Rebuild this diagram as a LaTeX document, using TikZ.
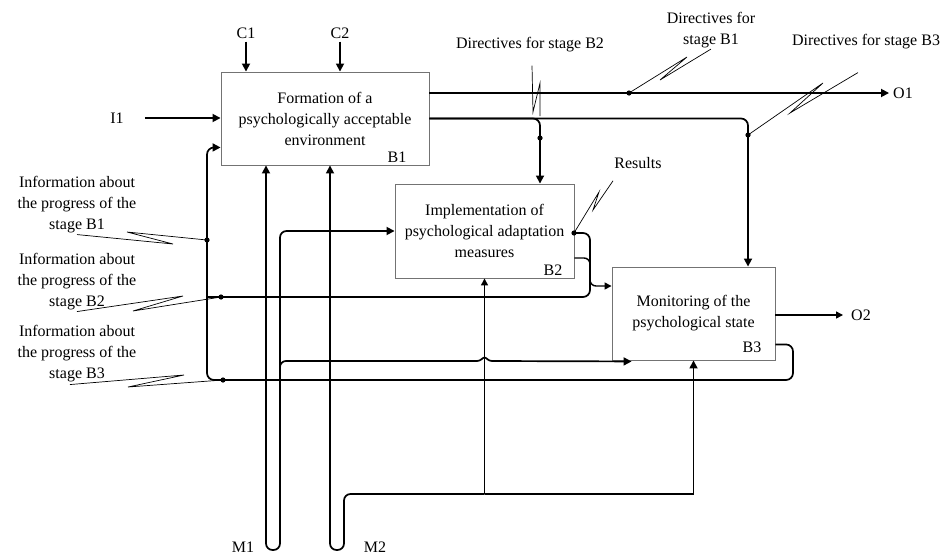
\documentclass[tikz,border=0pt]{standalone}
\usepackage{fontspec}
\setmainfont{Liberation Serif}
\usepackage{tikz}
\usetikzlibrary{positioning,arrows.meta,calc}

\begin{document}
\begin{tikzpicture}[
  x=1pt,y=-1pt,
  font=\fontsize{16}{21}\selectfont,
  block/.style={rectangle,draw=black!55,line width=0.9pt,fill=white,align=center,inner sep=2pt},
  tag/.style={inner sep=1pt},
  note/.style={align=center,inner sep=1pt},
  flow/.style={-{Triangle[length=8pt,width=8pt]},line width=1.7pt},
  thinflow/.style={-{Triangle[length=7pt,width=7pt]},line width=1.4pt},
  wire/.style={line width=1.7pt},
  bolt/.style={line width=0.7pt,line join=miter}
]
\useasboundingbox (0,0) rectangle (947,554);

\node[block,minimum width=208pt,minimum height=93pt] (b1) at (325,118.5)
  {Formation of a\\psychologically acceptable\\environment};
\node[block,minimum width=179pt,minimum height=94pt] (b2) at (484.5,231)
  {Implementation of\\psychological adaptation\\measures};
\node[block,minimum width=163pt,minimum height=93pt] (b3) at (693.5,313.5)
  {Monitoring of the\\psychological state};
\node[tag,anchor=base east] (b1id) at ($(b1.south east)+(-22,-3)$) {B1};
\node[tag,anchor=base east] (b2id) at ($(b2.south east)+(-11,-3)$) {B2};
\node[tag,anchor=base east] (b3id) at ($(b3.south east)+(-13,-8)$) {B3};

\node[tag] (c1) at (246,33) {C1};
\node[tag] (c2) at (340,33) {C2};
\node[tag] (i1) at (117,118) {I1};
\node[tag] (o1) at (903,93) {O1};
\node[tag] (o2) at (861,315) {O2};
\node[tag] (m1) at (243,547) {M1};
\node[tag] (m2) at (375,547) {M2};

\node[note] (nb1) at (77,205) {Information about\\the progress of the\\stage B1};
\node[note] (nb2) at (77,282) {Information about\\the progress of the\\stage B2};
\node[note] (nb3) at (77,354) {Information about\\the progress of the\\stage B3};
\node[note] (db2) at (530,45) {Directives for stage B2};
\node[note] (db1) at (711,30) {Directives for\\stage B1};
\node[note] (db3) at (866,42) {Directives for stage B3};
\node[note] (rs) at (638,163) {Results};

\coordinate (j1) at (207,240);
\coordinate (j2) at (221,297);
\coordinate (j3) at (223,380);
\coordinate (j4) at (629,93);
\coordinate (j5) at (540,138);
\coordinate (j6) at (748,135);
\coordinate (j7) at (574,233);
\coordinate (back) at (207,380);
\coordinate (rr) at (793,380);
\coordinate (b1in) at ($(b1.south west)+(0,-18)$);
\coordinate (kk) at (590,286);
\coordinate (m1a) at (266,550);
\coordinate (m1b) at (280,550);
\coordinate (m1c) at (280,361);
\coordinate (hop) at (477,361);
\coordinate (m2a) at (330,550);
\coordinate (m2b) at (344,550);
\coordinate (m2c) at (344,494);
\coordinate (m2d) at (b2.south |- m2c);

\draw[flow,shorten <=2pt] (c1) -- (c1 |- b1.north);
\draw[flow,shorten <=2pt] (c2) -- (c2 |- b1.north);
\draw[flow,shorten <=20pt] (i1) -- (i1 -| b1.west);
\draw[flow,shorten >=3pt] (b1.east |- o1) -- (o1);
\draw[flow,rounded corners=7pt] (b1.east) -| (j6 |- b3.north);
\draw[flow,rounded corners=7pt] (b1.east) -| (j5 |- b2.north);
\draw[thinflow,shorten >=7pt] (b3.east |- o2) -- (o2);

\draw[wire,rounded corners=7pt] (j7) -| (kk |- j2) -- (back |- j2);
\draw[thinflow,rounded corners=6pt] ($(b2.east)+(0,27)$) -| (kk) -- (b3.west |- kk);
\draw[flow,rounded corners=7pt] ($(b3.south east)+(0,-16)$) -| (rr) -- (back) |- (b1in);

\draw[{Triangle[length=8pt,width=8pt]}-{Triangle[length=8pt,width=8pt]},line width=1.7pt,rounded corners=6.5pt]
  (b2.west) -| (m1b) -- (m1a) -- (m1a |- b1.south);
\draw[wire,rounded corners=6pt] ($(m1c)+(0,12)$) -- (m1c) -- (hop);
\draw[flow] (hop) .. controls (481,361) and (482.5,357.5) .. (484.5,357.5)
  .. controls (486.5,357.5) and (488,361) .. (492,361)
  -- ($(b3.south west)+(20,1)$);
\draw[flow,rounded corners=6.5pt] (m2d) -- (m2c) -- (m2b) -- (m2a) -- (m2a |- b1.south);
\draw[flow] (m2d) -- (b3.south |- m2d) -- (b3.south);
\draw[thinflow] (m2d) -- (b2.south);

\draw[bolt] (nb1.south) -- (173,244) -- (127,232) -- (j1);
\draw[bolt] (nb2.south) -- (183,296) -- (133,311) -- (j2);
\draw[bolt] ($(nb3.south)+(-7,1)$) -- (184,375) -- (128,387) -- (j3);
\draw[bolt] (j4) -- (687,57) -- (660,80) -- (db1.south);
\draw[bolt] ($(db2.south)+(2,12)$) -- (533,112) -- (540,83) -- (540,116);
\draw[bolt] (j6) -- (823,83) -- (790,113) -- ($(db3.south)+(-8,22)$);
\draw[bolt] (j7) -- (599,192) -- (593,210) -- ($(rs.south)+(-25,11)$);

\foreach \j in {j1,j2,j3,j4,j5,j6,j7}
  \fill (\j) circle (2.6pt);
\end{tikzpicture}
\end{document}
